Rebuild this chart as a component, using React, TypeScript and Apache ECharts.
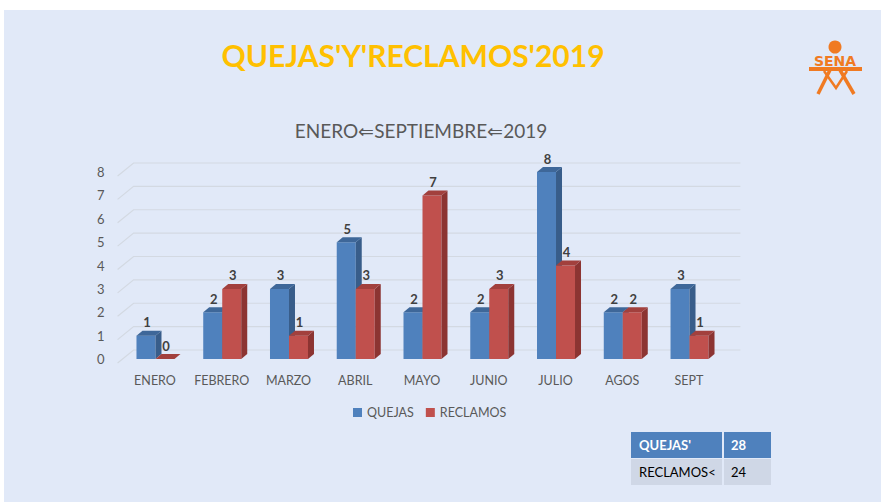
import React, { useEffect, useRef } from "react";
import * as echarts from "echarts";

const categories = ["ENERO", "FEBRERO", "MARZO", "ABRIL", "MAYO", "JUNIO", "JULIO", "AGOS", "SEPT"];
const quejas = [1, 2, 3, 5, 2, 2, 8, 2, 3];
const reclamos = [0, 3, 1, 3, 7, 3, 4, 2, 1];
const yTicks = [0, 1, 2, 3, 4, 5, 6, 7, 8];
const tableRows = [
  ["QUEJAS'", "28"],
  ["RECLAMOS<", "24"],
];

const FONT = "Lato, 'Open Sans', sans-serif";
const BLUE = { front: "#4F81BD", top: "#3E6799", side: "#385D8A" };
const RED = { front: "#C0504D", top: "#A2403D", side: "#8C3432" };
const DX = 6;
const DY = -5;
const BAR_W = 19;

function makeBarRender(colors: any, offset: number) {
  return (params: any, api: any) => {
    const cat = api.value(0);
    const val = api.value(1);
    const top = api.coord([cat, val]);
    const base = api.coord([cat, 0]);
    const x = top[0] + offset;
    const t = top[1];
    const b = base[1];
    const w = BAR_W;
    const children: any[] = [];
    if (b - t > 0.5) {
      children.push({ type: "rect", shape: { x, y: t, width: w, height: b - t }, style: { fill: colors.front } });
      children.push({
        type: "polygon",
        shape: { points: [[x + w, t], [x + w + DX, t + DY], [x + w + DX, b + DY], [x + w, b]] },
        style: { fill: colors.side },
      });
    }
    children.push({
      type: "polygon",
      shape: { points: [[x, t], [x + w, t], [x + w + DX, t + DY], [x + DX, t + DY]] },
      style: { fill: colors.top },
    });
    children.push({
      type: "text",
      style: {
        text: String(val),
        x: x + w / 2 + DX / 2 - 2,
        y: t + DY - 2,
        align: "center",
        verticalAlign: "bottom",
        fill: "#404040",
        font: `bold 13px ${FONT}`,
      },
    });
    return { type: "group", children };
  };
}

function gridRender(params: any, api: any) {
  const v = api.value(1);
  const y = api.coord([0, v])[1];
  const left = params.coordSys.x;
  const right = params.coordSys.x + params.coordSys.width;
  return {
    type: "polyline",
    shape: { points: [[left - 4, y + 4], [left + 12, y - 9], [right + 18, y - 9]] },
    style: { stroke: "#D3D9E2", lineWidth: 1.2, fill: "none" },
    silent: true,
  };
}

export default function App() {
  const ref = useRef<HTMLDivElement>(null);
  useEffect(() => {
    document.body.style.margin = "0";
    const chart = echarts.init(ref.current!, null, { renderer: "svg" });

    const tableGraphics: any[] = [];
    const tx = 631, ty = 432, c1 = 91, c2 = 47, rh = 26;
    tableRows.forEach((row, i) => {
      const y = ty + i * (rh + 1);
      const fill = i === 0 ? "#4F81BD" : "#CFD7E6";
      const color = i === 0 ? "#FFFFFF" : "#000000";
      const weight = i === 0 ? "bold" : "normal";
      tableGraphics.push({ type: "rect", shape: { x: tx, y, width: c1, height: rh }, style: { fill } });
      tableGraphics.push({ type: "rect", shape: { x: tx + c1 + 2, y, width: c2, height: rh }, style: { fill } });
      tableGraphics.push({
        type: "text",
        style: { text: row[0], x: tx + 8, y: y + rh / 2, verticalAlign: "middle", fill: color, font: `${weight} 13px ${FONT}` },
      });
      tableGraphics.push({
        type: "text",
        style: { text: row[1], x: tx + c1 + 9, y: y + rh / 2, verticalAlign: "middle", fill: color, font: `${weight} 13px ${FONT}` },
      });
    });

    const orange = "#F07A22";
    const logo: any[] = [
      { type: "circle", shape: { cx: 835, cy: 47, r: 6.5 }, style: { fill: orange } },
      { type: "text", style: { text: "SENA", x: 835, y: 61, align: "center", verticalAlign: "middle", fill: orange, font: `bold 14px 'DejaVu Sans', sans-serif` } },
      { type: "rect", shape: { x: 809, y: 67, width: 53, height: 4 }, style: { fill: orange } },
      { type: "polyline", shape: { points: [[830, 70], [818, 94]] }, style: { stroke: orange, lineWidth: 3.5, fill: "none" } },
      { type: "polyline", shape: { points: [[840, 70], [854, 94]] }, style: { stroke: orange, lineWidth: 3.5, fill: "none" } },
      { type: "polyline", shape: { points: [[824, 71], [836, 88], [847, 71]] }, style: { stroke: orange, lineWidth: 2.5, fill: "none" } },
    ];

    chart.setOption({
      animation: false,
      backgroundColor: "#FFFFFF",
      graphic: [
        { type: "rect", z: -10, shape: { x: 4, y: 10, width: 877, height: 492 }, style: { fill: "#E1E9F8" }, silent: true },
        {
          type: "text",
          style: { text: "QUEJAS'Y'RECLAMOS'2019", x: 413, y: 55, align: "center", verticalAlign: "middle", fill: "#FFC000", font: `bold 30px ${FONT}` },
        },
        {
          type: "text",
          style: { text: "ENERO⇐SEPTIEMBRE⇐2019", x: 421, y: 130, align: "center", verticalAlign: "middle", fill: "#595959", font: `19px ${FONT}` },
        },
        ...tableGraphics,
        ...logo,
      ],
      legend: {
        data: ["QUEJAS", "RECLAMOS"],
        top: 401,
        left: 348,
        itemWidth: 9,
        itemHeight: 9,
        itemGap: 12,
        icon: "rect",
        textStyle: { color: "#595959", fontSize: 12.5, fontFamily: FONT },
      },
      grid: { left: 121.6, right: 158.6, top: 172, bottom: 143 },
      xAxis: {
        type: "category",
        data: categories,
        axisLine: { show: false },
        axisTick: { show: false },
        axisLabel: { color: "#595959", fontSize: 12.5, fontFamily: FONT, margin: 15, interval: 0 },
      },
      yAxis: {
        type: "value",
        min: 0,
        max: 8,
        interval: 1,
        splitLine: { show: false },
        axisLine: { show: false },
        axisTick: { show: false },
        axisLabel: { color: "#595959", fontSize: 13, fontFamily: FONT, margin: 17, padding: [12, 0, 0, 0] },
      },
      series: [
        {
          type: "custom",
          name: "grid",
          renderItem: gridRender,
          data: yTicks.map((v) => [0, v]),
          clip: false,
          silent: true,
          z: 1,
        },
        {
          type: "custom",
          name: "QUEJAS",
          itemStyle: { color: BLUE.front },
          renderItem: makeBarRender(BLUE, -18.5),
          data: quejas.map((v, i) => [i, v]),
          clip: false,
          z: 2,
        },
        {
          type: "custom",
          name: "RECLAMOS",
          itemStyle: { color: RED.front },
          renderItem: makeBarRender(RED, 0.5),
          data: reclamos.map((v, i) => [i, v]),
          clip: false,
          z: 3,
        },
      ],
    });
    return () => chart.dispose();
  }, []);
  return <div ref={ref} style={{ position: "fixed", left: 0, top: 0, width: 881, height: 502 }} />;
}
